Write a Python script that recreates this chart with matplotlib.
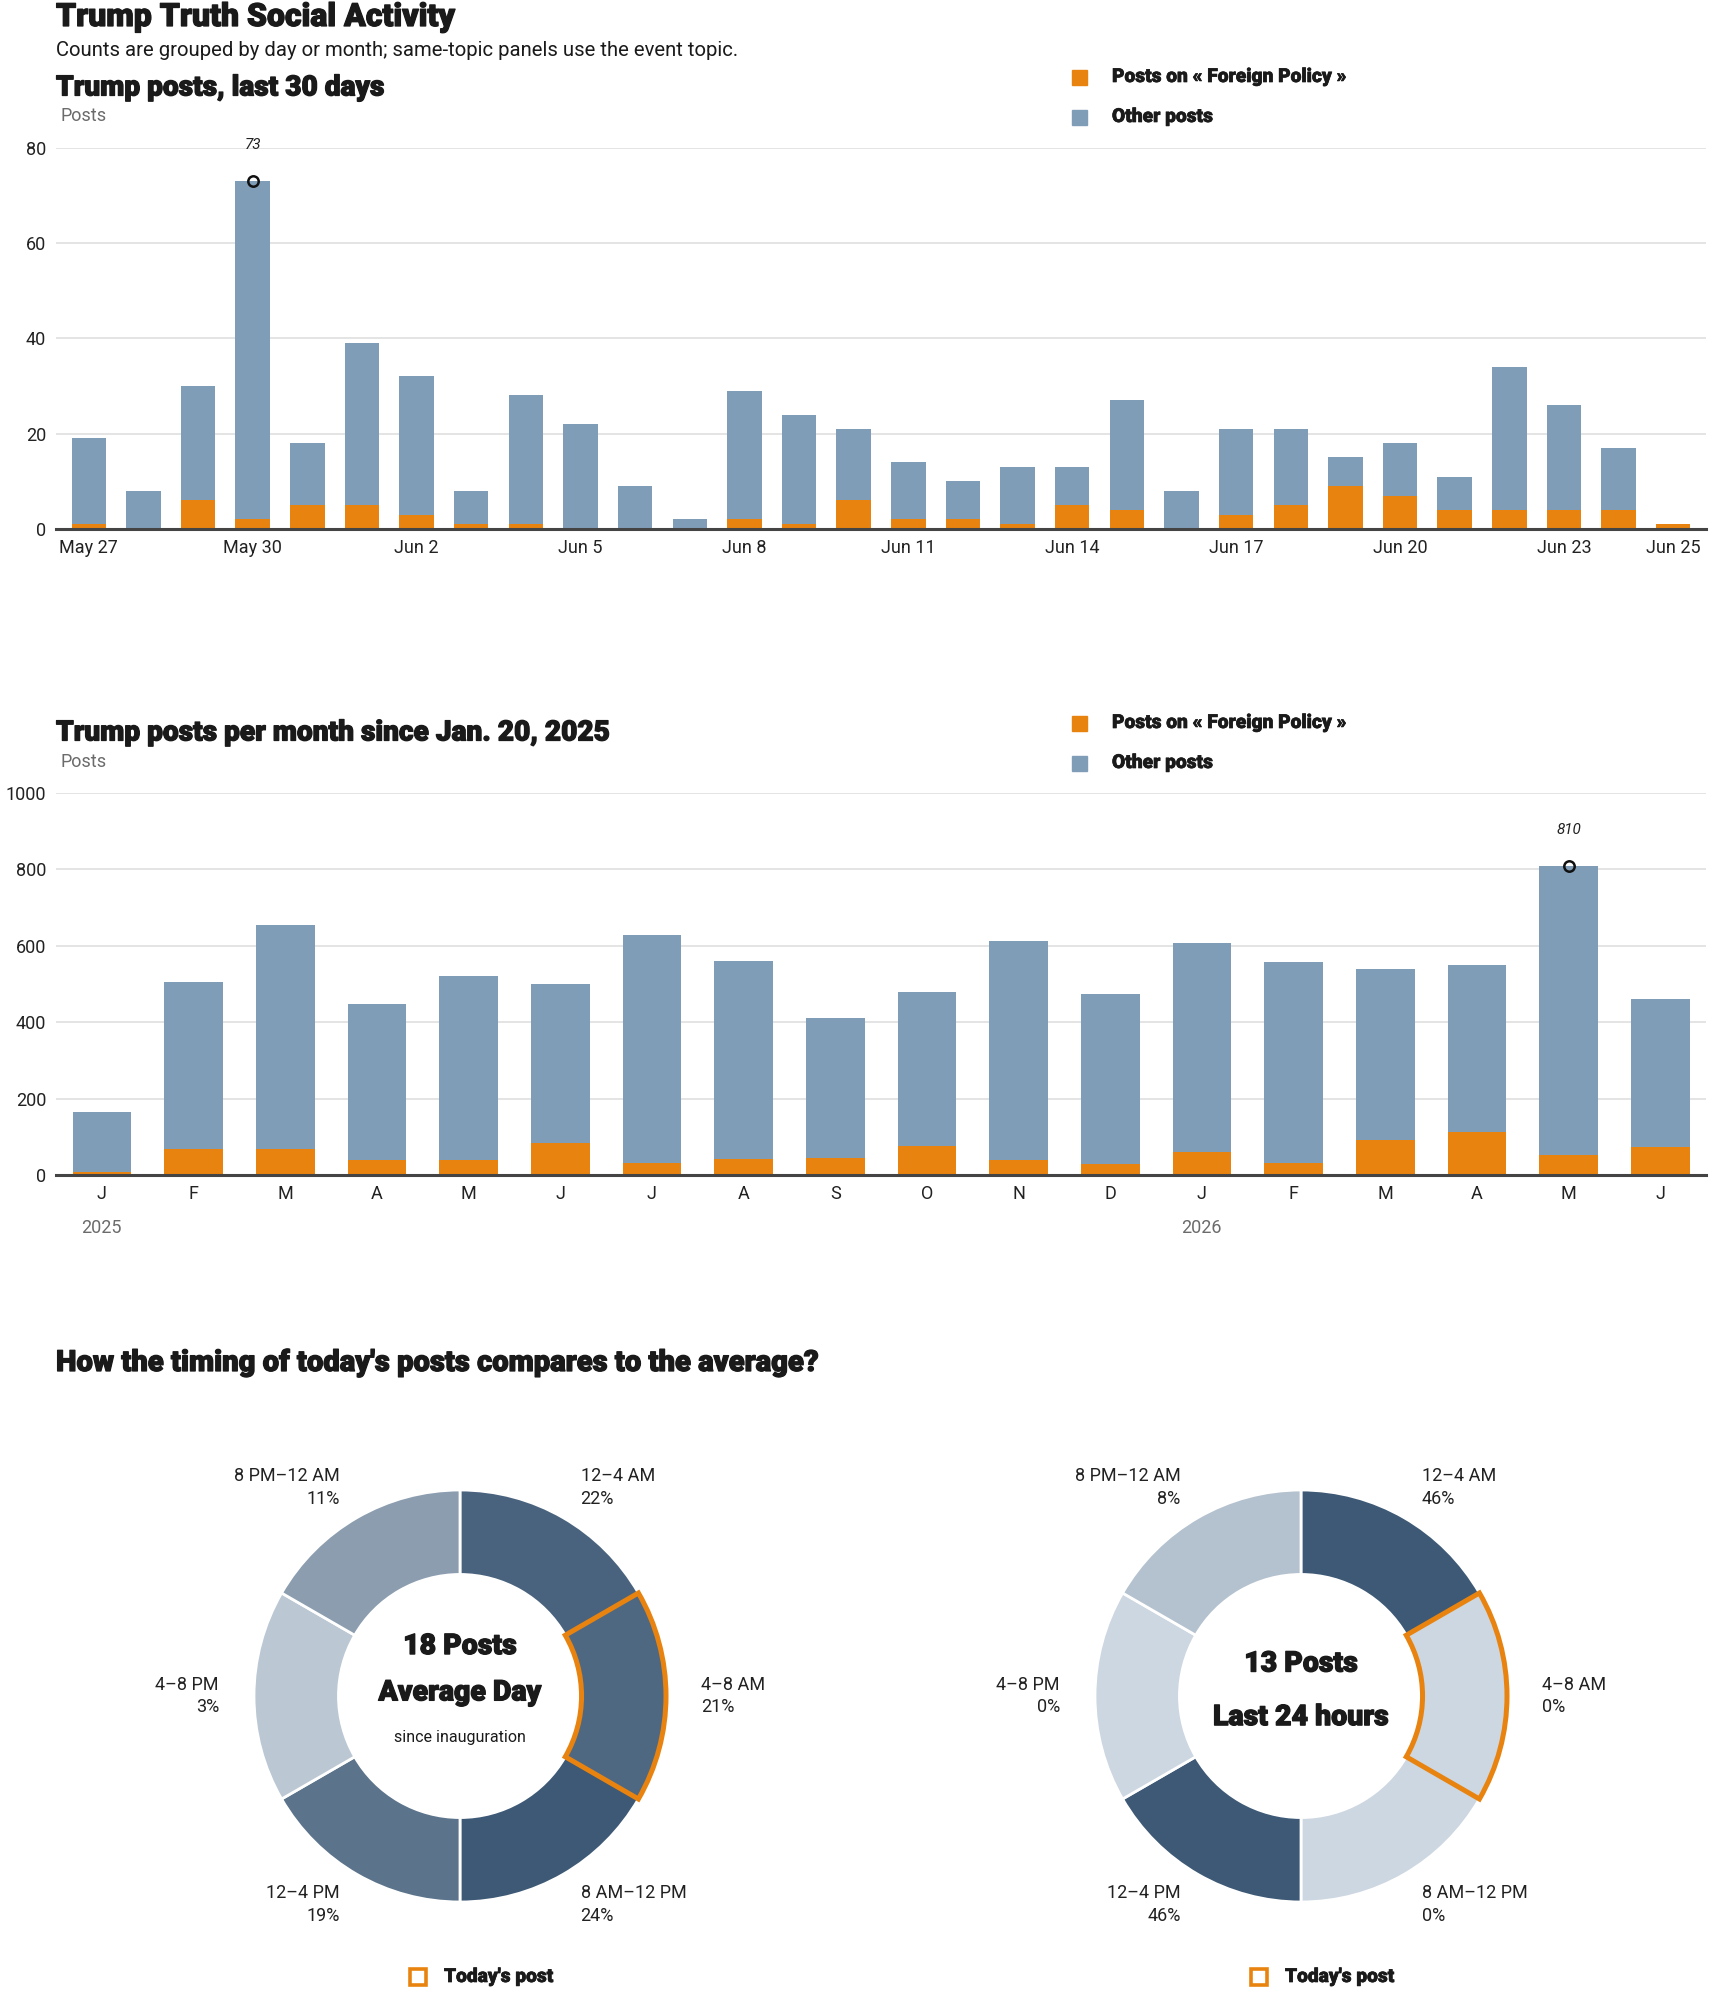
import numpy as np
import matplotlib
matplotlib.use("Agg")
import matplotlib.pyplot as plt
import matplotlib.patheffects as pe
from matplotlib import font_manager
from matplotlib.patches import Rectangle, Wedge
from matplotlib.colors import LinearSegmentedColormap

have = {f.name for f in font_manager.fontManager.ttflist}
FONT = next((f for f in ["Roboto", "Liberation Sans"] if f in have), "DejaVu Sans")
HEAD = FONT
HW = "heavy"
plt.rcParams["font.family"] = [FONT, "DejaVu Sans"]

ORANGE = "#e8830f"
BLUE = "#809db8"
GRID = "#dcdcdc"
INK = "#1a1a1a"
GRAY = "#6b6b6b"

# ---- data ----
days = ["May 27", "May 28", "May 29", "May 30", "May 31", "Jun 1", "Jun 2", "Jun 3", "Jun 4", "Jun 5",
        "Jun 6", "Jun 7", "Jun 8", "Jun 9", "Jun 10", "Jun 11", "Jun 12", "Jun 13", "Jun 14", "Jun 15",
        "Jun 16", "Jun 17", "Jun 18", "Jun 19", "Jun 20", "Jun 21", "Jun 22", "Jun 23", "Jun 24", "Jun 25"]
daily_total = [19, 8, 30, 73, 18, 39, 32, 8, 28, 22, 9, 2, 29, 24, 21,
               14, 10, 13, 13, 27, 8, 21, 21, 15, 18, 11, 34, 26, 17, 1]
daily_topic = [1, 0, 6, 2, 5, 5, 3, 1, 1, 0, 0, 0, 2, 1, 6,
               2, 2, 1, 5, 4, 0, 3, 5, 9, 7, 4, 4, 4, 4, 1]
day_ticks = [0, 3, 6, 9, 12, 15, 18, 21, 24, 27, 29]

months = ["J", "F", "M", "A", "M", "J", "J", "A", "S", "O", "N", "D", "J", "F", "M", "A", "M", "J"]
monthly_total = [166, 504, 654, 447, 520, 499, 628, 560, 412, 478, 612, 473, 607, 557, 539, 549, 810, 462]
monthly_topic = [8, 69, 69, 38, 39, 85, 32, 43, 45, 76, 38, 29, 59, 32, 92, 113, 53, 74]
years = {0: "2025", 12: "2026"}

slots = ["12–4 AM", "4–8 AM", "8 AM–12 PM", "12–4 PM", "4–8 PM", "8 PM–12 AM"]
avg_pct = [22, 21, 24, 19, 3, 11]
today_pct = [46, 0, 0, 46, 0, 8]
today_slot = 1

topic = "Foreign Policy"

W, H = 1710, 1993
fig = plt.figure(figsize=(W / 100, H / 100), dpi=100)


def box(l, t, r, b):
    return [l / W, 1 - b / H, (r - l) / W, (b - t) / H]


def ftext(x, y, s, **kw):
    kw.setdefault("va", "center")
    kw.setdefault("color", INK)
    return fig.text(x / W, 1 - y / H, s, **kw)


def head(x, y, s, size, stroke=0.9):
    # thin stroke fakes a heavier weight than the bold face
    ftext(x, y, s, fontsize=size, fontweight=HW, family=HEAD,
          path_effects=[pe.withStroke(linewidth=stroke, foreground=INK)])


def legend(y1, y2):
    for y, c, s in [(y1, ORANGE, "Posts on « %s »" % topic), (y2, BLUE, "Other posts")]:
        fig.add_artist(Rectangle((1072 / W, 1 - (y + 8) / H), 15 / W, 15 / H,
                                 transform=fig.transFigure, color=c))
        head(1112, y, s, 13.8, 0.5)


def style_bars(ax):
    for s in ["top", "right", "left"]:
        ax.spines[s].set_visible(False)
    ax.spines["bottom"].set_color("#444444")
    ax.spines["bottom"].set_linewidth(2.2)
    ax.spines["bottom"].set_zorder(6)
    ax.grid(axis="y", color=GRID, lw=1.1, zorder=0)
    ax.set_axisbelow(True)
    ax.tick_params(length=0, labelsize=13, colors="#222222", pad=7)


def mark_max(ax, vals):
    i = int(np.argmax(vals))
    ax.plot(i, vals[i], "o", mfc="none", mec="#111111", mew=1.8, ms=7.5, zorder=7, clip_on=False)
    ax.annotate(str(vals[i]), (i, vals[i]), xytext=(0, 36), textcoords="offset pixels",
                ha="center", va="center", style="italic", fontsize=11, color="#222222")


# ---- header ----
head(56, 17, "Trump Truth Social Activity", 23)
ftext(56, 51, "Counts are grouped by day or month; same-topic panels use the event topic.", fontsize=14.6)

# ---- last 30 days ----
head(56, 88, "Trump posts, last 30 days", 20.2)
ftext(60, 116, "Posts", fontsize=13, color=GRAY)
legend(77, 117)

ax1 = fig.add_axes(box(56, 147.5, 1706, 529))
x = np.arange(len(days))
other = np.array(daily_total) - np.array(daily_topic)
ax1.bar(x, daily_topic, width=0.63, color=ORANGE, zorder=3)
ax1.bar(x, other, bottom=daily_topic, width=0.63, color=BLUE, zorder=3)
ax1.set_xlim(-0.6, len(days) - 0.4)
ax1.set_ylim(0, 80)
ax1.set_yticks([0, 20, 40, 60, 80])
ax1.set_xticks(day_ticks)
ax1.set_xticklabels([days[i] for i in day_ticks])
style_bars(ax1)
mark_max(ax1, daily_total)

# ---- per month ----
head(56, 733, "Trump posts per month since Jan. 20, 2025", 20.2)
ftext(60, 762, "Posts", fontsize=13, color=GRAY)
legend(723, 763)

ax2 = fig.add_axes(box(56, 793, 1706, 1175))
m = np.arange(len(months))
other_m = np.array(monthly_total) - np.array(monthly_topic)
ax2.bar(m, monthly_topic, width=0.64, color=ORANGE, zorder=3)
ax2.bar(m, other_m, bottom=monthly_topic, width=0.64, color=BLUE, zorder=3)
ax2.set_xlim(-0.5, len(months) - 0.5)
ax2.set_ylim(0, 1000)
ax2.set_yticks(range(0, 1001, 200))
ax2.set_xticks(m)
ax2.set_xticklabels(months)
style_bars(ax2)
mark_max(ax2, monthly_total)
for i, yr in years.items():
    ax2.text(i, -0.139, yr, transform=ax2.get_xaxis_transform(), ha="center", va="center",
             fontsize=13, color=GRAY)

# ---- donuts ----
head(56, 1363, "How the timing of today's posts compares to the average?", 21)

shade = LinearSegmentedColormap.from_list("shade", ["#cdd7e1", "#3d5975"])
R = 206


def donut(cx, cy, pcts, lines):
    ax = fig.add_axes(box(cx - 1.1 * R, cy - 1.1 * R, cx + 1.1 * R, cy + 1.1 * R))
    cols = [shade(p / max(pcts)) for p in pcts]
    ax.pie([1] * len(pcts), colors=cols, startangle=90, counterclock=False, radius=1,
           wedgeprops=dict(width=0.41, edgecolor="white", linewidth=2))
    ax.set_xlim(-1.1, 1.1)
    ax.set_ylim(-1.1, 1.1)
    ax.set_aspect("equal")
    ax.axis("off")
    n = len(pcts)
    step = 360 / n
    for i, (lab, p) in enumerate(zip(slots, pcts)):
        a = np.deg2rad(90 - step * i - step / 2)
        c = np.cos(a)
        ha = "left" if c > 0.01 else ("right" if c < -0.01 else "center")
        ax.text(1.17 * c, 1.17 * np.sin(a), "%s\n%d%%" % (lab, p), ha=ha, va="center",
                fontsize=13, color="#222222", linespacing=1.35)
    t2 = 90 - step * today_slot
    ax.add_patch(Wedge((0, 0), 1, t2 - step, t2, width=0.41, fill=False, ec=ORANGE, lw=3.6, zorder=5))
    for yy, s, kw in lines:
        ax.text(0, yy, s, ha="center", va="center", color=INK, **kw)
    # today's post key
    fig.add_artist(Rectangle(((cx - 50) / W, 1 - 1985 / H), 16 / W, 16 / H, transform=fig.transFigure,
                             fill=False, ec=ORANGE, lw=2.6))
    head(cx - 16, 1977, "Today's post", 13.8, 0.5)


big = dict(fontsize=20.5, fontweight=HW, family=HEAD,
           path_effects=[pe.withStroke(linewidth=0.9, foreground=INK)])
donut(460, 1696, avg_pct, [(0.24, "%d Posts" % 18, big), (0.015, "Average Day", big),
                           (-0.2, "since inauguration", dict(fontsize=11.5))])
donut(1301, 1696, today_pct, [(0.155, "%d Posts" % 13, big), (-0.105, "Last 24 hours", big)])

fig.savefig("out.png", dpi=100)
